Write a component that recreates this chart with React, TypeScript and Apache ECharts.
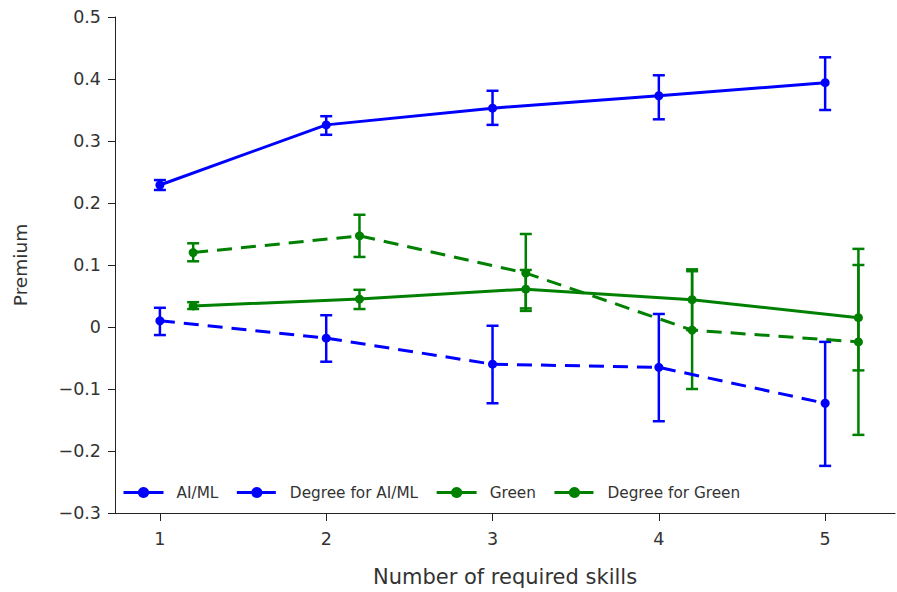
import React, { useEffect, useRef } from "react";
import * as echarts from "echarts";

const xBlue = [1, 2, 3, 4, 5];
const xGreen = [1.2, 2.2, 3.2, 4.2, 5.2];

const aiml = [0.229, 0.326, 0.353, 0.373, 0.394];
const aimlLo = [0.221, 0.31, 0.326, 0.335, 0.35];
const aimlHi = [0.237, 0.34, 0.381, 0.406, 0.435];

const degAiml = [0.01, -0.018, -0.06, -0.065, -0.123];
const degAimlLo = [-0.013, -0.056, -0.123, -0.152, -0.224];
const degAimlHi = [0.031, 0.019, 0.002, 0.021, -0.024];

const green = [0.034, 0.045, 0.061, 0.044, 0.015];
const greenLo = [0.029, 0.029, 0.03, -0.005, -0.07];
const greenHi = [0.04, 0.06, 0.092, 0.093, 0.1];

const degGreen = [0.12, 0.147, 0.087, -0.005, -0.024];
const degGreenLo = [0.106, 0.113, 0.026, -0.1, -0.174];
const degGreenHi = [0.135, 0.181, 0.15, 0.09, 0.126];

const xTicks = [1, 2, 3, 4, 5];
const seriesNames = ["AI/ML", "Degree for AI/ML", "Green", "Degree for Green"];

const BLUE = "#0000ff";
const GREEN = "#008000";
const FONT = "DejaVu Sans";
const TEXT = "#333";

function lineSeries(name: string, xs: number[], ys: number[], color: string, dashed: boolean) {
  return {
    type: "line",
    name,
    data: xs.map((x, i) => [x, ys[i]]),
    symbol: "circle",
    symbolSize: 9,
    showSymbol: true,
    itemStyle: { color },
    lineStyle: { color, width: 3, type: dashed ? [15, 9] : "solid" },
    z: 3,
  };
}

function errSeries(name: string, xs: number[], lo: number[], hi: number[], color: string) {
  return {
    type: "custom",
    name,
    data: xs.map((x, i) => [x, lo[i], hi[i]]),
    encode: { x: 0, y: [1, 2] },
    z: 2,
    renderItem: (_p: any, api: any) => {
      const x = api.value(0);
      const a = api.coord([x, api.value(1)]);
      const b = api.coord([x, api.value(2)]);
      const w = 6;
      const style = { stroke: color, lineWidth: 2.5 };
      return {
        type: "group",
        children: [
          { type: "line", shape: { x1: a[0], y1: a[1], x2: b[0], y2: b[1] }, style },
          { type: "line", shape: { x1: a[0] - w, y1: a[1], x2: a[0] + w, y2: a[1] }, style },
          { type: "line", shape: { x1: b[0] - w, y1: b[1], x2: b[0] + w, y2: b[1] }, style },
        ],
      };
    },
  };
}

export default function App() {
  const ref = useRef<HTMLDivElement>(null);
  useEffect(() => {
    if (!ref.current) return;
    const chart = echarts.init(ref.current, undefined, { renderer: "svg" });
    const fmt = (v: number) => {
      const r = Math.round(v * 10) / 10;
      if (r === 0) return "0";
      return r < 0 ? "\u2212" + Math.abs(r) : String(r);
    };
    chart.setOption({
      animation: false,
      backgroundColor: "#fff",
      textStyle: { fontFamily: FONT },
      grid: { left: 115, right: 2, top: 17, bottom: 78, containLabel: false },
      legend: {
        data: seriesNames,
        left: 122,
        top: 485,
        padding: 0,
        itemWidth: 40,
        itemHeight: 14,
        itemGap: 17,
        lineStyle: { width: 3 },
        textStyle: { fontFamily: FONT, fontSize: 15.3, color: TEXT, padding: [0, 0, 0, 8] },
      },
      xAxis: {
        type: "value",
        min: 0.73,
        max: 5.42,
        name: "Number of required skills",
        nameLocation: "middle",
        nameGap: 53,
        nameTextStyle: { fontFamily: FONT, fontSize: 21, color: TEXT },
        axisLine: { show: true, onZero: false, lineStyle: { color: "#222", width: 1 } },
        axisTick: { show: true, length: 8, customValues: xTicks, lineStyle: { color: "#222" } },
        axisLabel: {
          customValues: xTicks,
          margin: 17,
          fontFamily: FONT,
          fontSize: 17.5,
          color: TEXT,
          formatter: (v: number) => String(v),
        },
        splitLine: { show: false },
      },
      yAxis: {
        type: "value",
        min: -0.3,
        max: 0.5,
        interval: 0.1,
        name: "Premium",
        nameLocation: "middle",
        nameGap: 85,
        nameTextStyle: { fontFamily: FONT, fontSize: 18.5, color: TEXT },
        axisLine: { show: true, lineStyle: { color: "#222", width: 1 } },
        axisTick: { show: true, length: 7, lineStyle: { color: "#222" } },
        axisLabel: { margin: 14, fontFamily: FONT, fontSize: 17.5, color: TEXT, formatter: fmt },
        splitLine: { show: false },
      },
      series: [
        errSeries("AI/ML err", xBlue, aimlLo, aimlHi, BLUE),
        errSeries("Degree for AI/ML err", xBlue, degAimlLo, degAimlHi, BLUE),
        errSeries("Green err", xGreen, greenLo, greenHi, GREEN),
        errSeries("Degree for Green err", xGreen, degGreenLo, degGreenHi, GREEN),
        lineSeries("AI/ML", xBlue, aiml, BLUE, false),
        lineSeries("Degree for AI/ML", xBlue, degAiml, BLUE, true),
        lineSeries("Green", xGreen, green, GREEN, false),
        lineSeries("Degree for Green", xGreen, degGreen, GREEN, true),
      ],
    });
    return () => chart.dispose();
  }, []);
  return (
    <div
      ref={ref}
      style={{ position: "fixed", left: 0, top: 0, width: 897, height: 592, background: "#fff" }}
    />
  );
}
